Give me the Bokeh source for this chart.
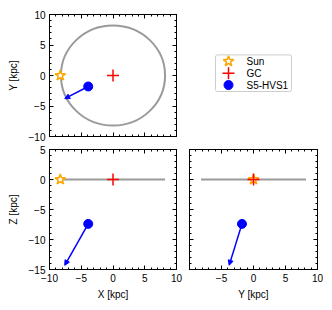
from bokeh.plotting import figure
from bokeh.layouts import column, row
from bokeh.models import (Range1d, LinearAxis, SingleIntervalTicker, Arrow, NormalHead)
from bokeh.core.properties import value
from bokeh.embed import file_html
from bokeh.resources import INLINE

# ---- data (kpc) ----
sun_xyz = [-8.3, 0.0, 0.0]
gc_xyz = [0.0, 0.0, 0.0]
hvs_xyz = [-3.9, -1.8, -7.4]
hvs_tip_xyz = [-7.6, -3.8, -14.3]
disk_radius = 8.2
x_ticks_range = [-10, 10]
y_ticks_range = [-10, 10]
z_ticks_range = [-15, 5]
legend_labels = ["Sun", "GC", "S5-HVS1"]

FONT = "Liberation Sans"
FS = "10px"
GRAY = "#9a9a9a"

# marker styles shared by panels and legend
STYLES = [
    dict(marker="star", size=11, fill_color="white", line_color="orange", line_width=1.5),
    dict(marker="cross", size=12, line_color="red", line_width=1.5),
    dict(marker="circle", size=9, fill_color="blue", line_color="blue"),
]


def styled_axis(ax, show_labels=True, overrides=None):
    ax.ticker = SingleIntervalTicker(interval=5, num_minor_ticks=5)
    ax.major_tick_in = 4
    ax.major_tick_out = 0
    ax.minor_tick_in = 2
    ax.minor_tick_out = 0
    ax.axis_line_color = "black"
    ax.major_tick_line_color = "black"
    ax.minor_tick_line_color = "black"
    ax.major_label_text_font = FONT
    ax.axis_label_text_font = FONT
    ax.axis_label_text_font_size = FS
    ax.axis_label_text_font_style = "normal"
    ax.axis_label_text_color = "black"
    ax.axis_label_standoff = 4
    if show_labels:
        ax.major_label_text_font_size = FS
        ax.major_label_text_color = "black"
        ax.major_label_standoff = 4
    else:
        ax.major_label_text_font_size = "1px"
        ax.major_label_text_color = None
        ax.major_label_standoff = 0
    if overrides:
        ax.major_label_overrides = overrides


def make_fig(w, h, xr, yr, l, r, t, b, xlabel=None, ylabel=None, show_x=True, show_y=True,
             x_over=None):
    p = figure(width=w, height=h, x_range=Range1d(*xr), y_range=Range1d(*yr),
               toolbar_location=None, output_backend="svg",
               min_border_left=l, min_border_right=r, min_border_top=t, min_border_bottom=b)
    p.grid.visible = False
    p.outline_line_color = "black"
    p.outline_line_width = 1
    styled_axis(p.xaxis[0], show_x, x_over)
    styled_axis(p.yaxis[0], show_y)
    if xlabel:
        p.xaxis[0].axis_label = xlabel
    if ylabel:
        p.yaxis[0].axis_label = ylabel
        p.yaxis[0].axis_label_standoff = 7
    top = LinearAxis()
    styled_axis(top, False)
    p.add_layout(top, "above")
    right = LinearAxis()
    styled_axis(right, False)
    p.add_layout(right, "right")
    return p


def draw_points(p, i, j):
    for pos, st in zip([sun_xyz, gc_xyz, hvs_xyz], STYLES):
        p.scatter([pos[i]], [pos[j]], **st)
    p.add_layout(Arrow(x_start=hvs_xyz[i], y_start=hvs_xyz[j],
                       x_end=hvs_tip_xyz[i], y_end=hvs_tip_xyz[j],
                       line_color="blue", line_width=1.5,
                       end=NormalHead(size=5, fill_color="blue", line_color="blue")))


# XY panel
f1 = make_fig(183, 142, x_ticks_range, y_ticks_range, 49, 7, 14, 6,
              ylabel="Y [kpc]", show_x=False)
f1.ellipse(x=[gc_xyz[0]], y=[gc_xyz[1]], width=[2 * disk_radius], height=[2 * disk_radius],
           fill_color=None, line_color=GRAY, line_width=2)
draw_points(f1, 0, 1)

# XZ panel
f2 = make_fig(183, 160, x_ticks_range, z_ticks_range, 49, 7, 7, 30,
              xlabel="X [kpc]", ylabel="Z [kpc]")
f2.segment(x0=[-disk_radius], y0=[0], x1=[disk_radius], y1=[0], line_color=GRAY, line_width=2)
draw_points(f2, 0, 2)

# YZ panel
f3 = make_fig(140, 160, y_ticks_range, z_ticks_range, 6, 6, 7, 30,
              xlabel="Y [kpc]", show_y=False, x_over={-10: ""})
f3.segment(x0=[-disk_radius], y0=[0], x1=[disk_radius], y1=[0], line_color=GRAY, line_width=2)
draw_points(f3, 1, 2)

# legend panel (pixel-like layout coordinates, y downward)
LW, LH = 140, 142
fl = figure(width=LW, height=LH, x_range=Range1d(0, LW), y_range=Range1d(LH, 0),
            toolbar_location=None, output_backend="svg", min_border=0,
            x_axis_location=None, y_axis_location=None)
fl.grid.visible = False
fl.outline_line_color = None
box_left, box_top, pitch, pad = 32, 47, 13.8, 7.5
n = len(legend_labels)
fl.quad(left=[box_left], right=[box_left + 76], top=[box_top],
        bottom=[box_top + 2 * pad + (n - 1) * pitch],
        fill_color="white", line_color="#cccccc", line_width=1, border_radius=2)
for k, (lab, st) in enumerate(zip(legend_labels, STYLES)):
    yk = box_top + pad + k * pitch
    fl.scatter([box_left + 13], [yk], **st)
    fl.text([box_left + 31], [yk], text=[lab], text_font=value(FONT),
            text_font_size=FS, text_baseline="middle", text_align="left",
            text_color="black")

layout = column(row(f1, fl), row(f2, f3))
open("out.html", "w").write(file_html(layout, INLINE))
